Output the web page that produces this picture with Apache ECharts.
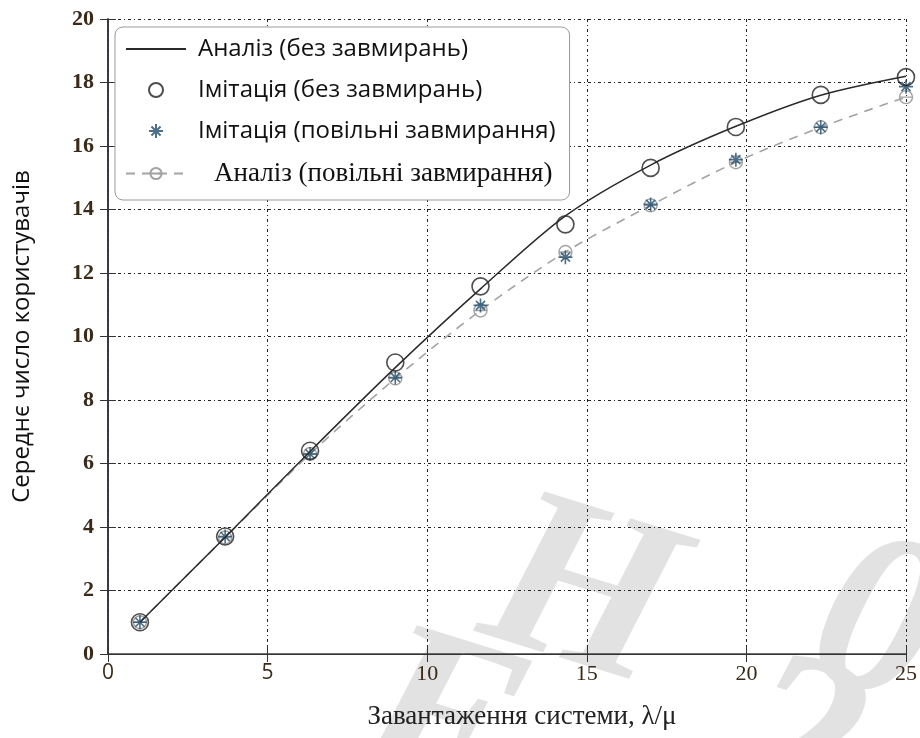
<!DOCTYPE html>
<html><head><meta charset="utf-8">
<script src="https://cdn.jsdelivr.net/npm/echarts@6/dist/echarts.min.js"></script>
<style>html,body{margin:0;padding:0;background:#fff}#c{width:920px;height:738px}</style>
</head><body><div id="c"></div>
<script>
// ---- data ----
const loadX = [1, 3.67, 6.33, 9, 11.67, 14.33, 17, 19.67, 22.33, 25];
const analysisNoFading = [1.0, 3.68, 6.38, 9.02, 11.5, 13.8, 15.4, 16.62, 17.6, 18.2];
const simNoFading = [1.0, 3.7, 6.4, 9.18, 11.58, 13.53, 15.31, 16.6, 17.61, 18.17];
const simSlowFading = [1.0, 3.7, 6.3, 8.71, 10.98, 12.5, 14.16, 15.57, 16.59, 17.87];
const analysisSlowFading = [1.0, 3.67, 6.3, 8.68, 10.82, 12.66, 14.13, 15.49, 16.59, 17.54];
const seriesNames = ['Аналіз (без завмирань)', 'Імітація (без завмирань)', 'Імітація (повільні завмирання)', 'Аналіз (повільні завмирання)'];
const xTickLabels = ['0', '5', '10', '15', '20', '25'];
const yTickLabels = ['0','2','4','6','8','10','12','14','16','18','20'];
const xTitle = 'Завантаження системи, λ/μ';
const yTitle = 'Середнє число користувачів';
const watermark = [['Е', 440, 730], ['Н', 580, 600], ['2', 795, 750], ['0', 876, 630]];

const pairs = arr => loadX.map((x, i) => [x, arr[i]]);
const starPath = 'path://M10 0 L10 20 M0 10 L20 10 M3.5 3.5 L16.5 16.5 M16.5 3.5 L3.5 16.5';
const thetaPath = 'path://M0 10 A10 10 0 1 1 20 10 A10 10 0 1 1 0 10 Z M0 10 L20 10';

const chart = echarts.init(document.getElementById('c'), null, {renderer: 'canvas'});
const grid = {left: 108, right: 13, top: 19, bottom: 84, containLabel: false};
const sans = '"Open Sans", "Noto Sans", sans-serif';
const serif = '"Liberation Serif", "DejaVu Serif", serif';
const clear = 'rgba(0,0,0,0)';

chart.setOption({
  animation: false,
  backgroundColor: '#fff',
  grid: grid,
  graphic: watermark.map(w => ({
    type: 'text', x: w[1], y: w[2], rotation: -0.3, z: -10, silent: true,
    style: {text: w[0], font: 'italic bold 235px "Liberation Serif"', fill: '#e2e2e2', textAlign: 'center', textVerticalAlign: 'middle'}
  })),
  legend: {
    orient: 'vertical', left: 115, top: 27,
    padding: [10, 14, 13, 10],
    itemWidth: 60, itemHeight: 14, itemGap: 17,
    backgroundColor: '#fff', borderColor: '#9a9a9a', borderWidth: 1, borderRadius: 8,
    data: seriesNames,
    formatter: name => name === seriesNames[3] ? '{s|' + name + '}' : name,
    textStyle: {fontFamily: sans, fontSize: 24, color: '#111', padding: [0, 0, 0, 7],
      rich: {s: {fontFamily: serif, fontSize: 27, color: '#111', padding: [0, 0, 0, 16]}}}
  },
  xAxis: [{
    type: 'value', min: 0, max: 25, interval: 5, position: 'bottom',
    name: xTitle, nameLocation: 'middle', nameGap: 49,
    nameTextStyle: {fontFamily: serif, fontSize: 27, color: '#222', padding: [0, 0, 0, 30]},
    axisLine: {show: true, lineStyle: {color: '#444', width: 1.5}},
    axisTick: {inside: true, length: 8, lineStyle: {color: '#333'}},
    axisLabel: {margin: 9, fontSize: 22, color: '#3a2a18', fontFamily: serif,
      formatter: v => { const t = xTickLabels[Math.round(v / 5)]; return v < 10 ? '{a|' + t + '}' : t; },
      rich: {a: {fontFamily: sans, fontSize: 21, color: '#3a2a18'}}},
    splitLine: {show: true, lineStyle: {color: '#222', width: 1, type: [3, 3, 1, 3]}}
  }, {
    type: 'value', min: 0, max: 25, interval: 5, position: 'top',
    axisLine: {show: true, lineStyle: {color: '#333', width: 1}},
    axisTick: {inside: true, length: 8, lineStyle: {color: '#333'}},
    axisLabel: {show: false}, splitLine: {show: false}
  }],
  yAxis: [{
    type: 'value', min: 0, max: 20, interval: 2, position: 'left',
    name: yTitle, nameLocation: 'middle', nameGap: 74, nameRotate: 90,
    nameTextStyle: {fontFamily: sans, fontSize: 24, color: '#111'},
    axisLine: {show: true, lineStyle: {color: '#1c2350', width: 1.5}},
    axisTick: {inside: true, length: 8, lineStyle: {color: '#333'}},
    axisLabel: {margin: 14, fontSize: 22, fontWeight: 'bold', color: '#3a2a18', fontFamily: serif,
      formatter: v => yTickLabels[Math.round(v / 2)]},
    splitLine: {show: true, lineStyle: {color: '#222', width: 1, type: [3, 3, 1, 3]}}
  }, {
    type: 'value', min: 0, max: 20, interval: 2, position: 'right',
    axisLine: {show: true, lineStyle: {color: '#333', width: 1.5}},
    axisTick: {inside: true, length: 8, lineStyle: {color: '#333'}},
    axisLabel: {show: false}, splitLine: {show: false}
  }],
  series: [{
    name: seriesNames[0], type: 'line', data: pairs(analysisNoFading), smooth: 0.3,
    symbol: 'circle', showSymbol: false, z: 5,
    lineStyle: {color: '#2a2a2a', width: 1.5}, itemStyle: {color: clear, borderColor: clear, borderWidth: 0}
  }, {
    name: seriesNames[1], type: 'scatter', data: pairs(simNoFading), symbol: 'circle', symbolSize: 17, z: 4,
    itemStyle: {color: clear, borderColor: '#222', borderWidth: 1.6}
  }, {
    name: seriesNames[2], type: 'scatter', data: pairs(simSlowFading), symbol: starPath, symbolSize: 14, z: 3,
    itemStyle: {color: clear, borderColor: '#1f4b6b', borderWidth: 1.6}
  }, {
    name: seriesNames[3], type: 'line', data: pairs(analysisSlowFading), smooth: 0.3,
    symbol: thetaPath, symbolSize: 13, showSymbol: true, z: 2,
    lineStyle: {color: '#a3a3a3', width: 1.6, type: [9, 7]},
    itemStyle: {color: clear, borderColor: '#a3a3a3', borderWidth: 1.4}
  }]
});
</script></body></html>
